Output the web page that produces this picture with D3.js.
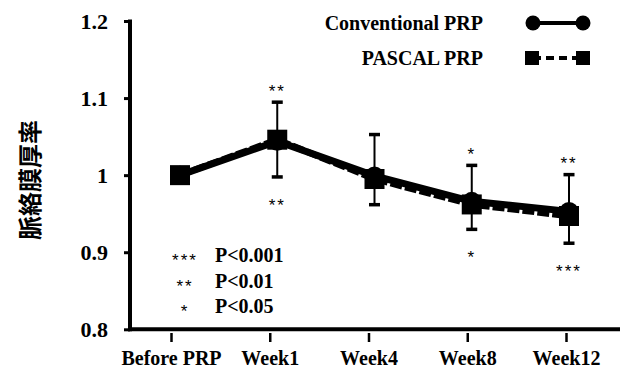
<!DOCTYPE html>
<html>
<head>
<meta charset="utf-8">
<script src="https://cdn.jsdelivr.net/npm/d3@7"></script>
<style>
  body { margin: 0; background: #fff; }
  svg { display: block; }
</style>
</head>
<body>
<div id="chart"></div>
<script>
// data
var categories = ["Before PRP", "Week1", "Week4", "Week8", "Week12"];
var conventionalMean = [1.0, 1.044, 0.999, 0.966, 0.953];
var conventionalSD = [0, 0.051, 0.054, 0.047, 0.048];
var pascalMean = [1.0, 1.046, 0.995, 0.962, 0.947];
var pascalSD = [0, 0.048, 0.033, 0.032, 0.035];
var sigUpper = ["", "**", "", "*", "**"];
var sigLower = ["", "**", "", "*", "***"];
var yTicks = [0.8, 0.9, 1.0, 1.1, 1.2];
var sigKey = [["***", "P<0.001"], ["**", "P<0.01"], ["*", "P<0.05"]];

var width = 621, height = 370;
var SERIF = "'Liberation Serif', 'Times New Roman', serif";
var SANS = "'Liberation Sans', Arial, sans-serif";

var svg = d3.select("#chart")
    .append("svg")
    .attr("width", width)
    .attr("height", height);

function serifText(sel, size) {
    return sel.style("font-family", SERIF)
        .style("font-weight", "bold")
        .style("font-size", size + "px")
        .attr("fill", "#000");
}

// scales
var xTick = d3.scalePoint().domain(categories).range([171, 566]);
var xPt = d3.scalePoint().domain(categories).range([180, 569]);
var y = d3.scaleLinear().domain([0.8, 1.2]).range([329.3, 21]);

// y axis
var yAxis = svg.append("g")
    .attr("transform", "translate(130,0)")
    .call(d3.axisLeft(y)
        .tickValues(yTicks)
        .tickSize(6)
        .tickPadding(16)
        .tickFormat(function (d) { return d === 1 ? "1" : d3.format(".1f")(d); }));
yAxis.attr("font-family", null).attr("font-size", null);
yAxis.select(".domain").remove();
yAxis.selectAll(".tick line").attr("stroke", "#000").attr("stroke-width", 3);
serifText(yAxis.selectAll(".tick text"), 22);

svg.append("line")
    .attr("x1", 130).attr("x2", 130)
    .attr("y1", y(1.2) - 1.5).attr("y2", y(0.8) + 2)
    .attr("stroke", "#000").attr("stroke-width", 4);

// x axis
var xAxis = svg.append("g")
    .attr("transform", "translate(0,333)")
    .call(d3.axisBottom(xTick).tickSize(9).tickPadding(9));
xAxis.attr("font-family", null).attr("font-size", null);
xAxis.select(".domain").remove();
xAxis.selectAll(".tick line").attr("stroke", "#000").attr("stroke-width", 2.5);
serifText(xAxis.selectAll(".tick text"), 20);

svg.append("line")
    .attr("x1", 128).attr("x2", 620)
    .attr("y1", y(0.8)).attr("y2", y(0.8))
    .attr("stroke", "#000").attr("stroke-width", 4);

// y title
svg.append("text")
    .attr("transform", "translate(28,180) rotate(-90)")
    .attr("text-anchor", "middle")
    .attr("dominant-baseline", "central")
    .style("font-family", "'Noto Sans CJK JP', 'Noto Sans CJK SC', sans-serif")
    .style("font-weight", "bold")
    .style("font-size", "24px")
    .text("脈絡膜厚率");

// error bars (conventional up, pascal down)
function errBar(mean, sd, dir) {
    var g = svg.append("g");
    categories.forEach(function (c, i) {
        if (!sd[i]) return;
        var v0 = mean[i], v1 = mean[i] + dir * sd[i];
        g.append("line")
            .attr("x1", xPt(c)).attr("x2", xPt(c))
            .attr("y1", y(v0)).attr("y2", y(v1))
            .attr("stroke", "#000").attr("stroke-width", 2);
        g.append("rect")
            .attr("x", xPt(c) - 5.5).attr("y", y(v1) - 1.5)
            .attr("width", 11).attr("height", 3.5)
            .attr("fill", "#000");
    });
}
errBar(conventionalMean, conventionalSD, 1);
errBar(pascalMean, pascalSD, -1);

// lines
var lineGen = function (vals) {
    return d3.line()
        .x(function (d, i) { return xPt(categories[i]); })
        .y(function (d) { return y(d); })(vals);
};
svg.append("path")
    .attr("d", lineGen(pascalMean))
    .attr("fill", "none").attr("stroke", "#000").attr("stroke-width", 6.5)
    .attr("stroke-dasharray", "12,3");
svg.append("path")
    .attr("d", lineGen(conventionalMean))
    .attr("fill", "none").attr("stroke", "#000").attr("stroke-width", 7);

// markers
svg.selectAll("circle.conv")
    .data(conventionalMean)
    .enter().append("circle")
    .attr("class", "conv")
    .attr("cx", function (d, i) { return xPt(categories[i]); })
    .attr("cy", function (d) { return y(d); })
    .attr("r", 9.5)
    .attr("fill", "#000");
svg.selectAll("rect.pas")
    .data(pascalMean)
    .enter().append("rect")
    .attr("class", "pas")
    .attr("x", function (d, i) { return xPt(categories[i]) - 10; })
    .attr("y", function (d) { return y(d) - 10; })
    .attr("width", 20).attr("height", 20)
    .attr("fill", "#000");

// significance stars
function starText(sel) {
    return sel.attr("text-anchor", "middle")
        .style("font-family", SANS)
        .style("font-size", "17px")
        .style("letter-spacing", "2px");
}
function stars(labels, mean, sd, dir, off) {
    starText(svg.selectAll(null)
        .data(labels)
        .enter().append("text")
        .attr("x", function (d, i) { return xPt(categories[i]); })
        .attr("y", function (d, i) { return y(mean[i] + dir * sd[i]) - dir * off + 9; }))
        .text(function (d) { return d; });
}
stars(sigUpper, conventionalMean, conventionalSD, 1, 14);
stars(sigLower, pascalMean, pascalSD, -1, 25);

// p-value key
var key = svg.append("g");
sigKey.forEach(function (k, i) {
    starText(key.append("text")
        .attr("x", 185).attr("y", 266 + i * 25.5))
        .text(k[0]);
    serifText(key.append("text")
        .attr("x", 215).attr("y", 262 + i * 25.5), 20)
        .text(k[1]);
});

// legend
var leg = svg.append("g");
serifText(leg.append("text")
    .attr("x", 483).attr("y", 30).attr("text-anchor", "end"), 20)
    .text("Conventional PRP");
leg.append("line")
    .attr("x1", 533).attr("x2", 583).attr("y1", 23).attr("y2", 23)
    .attr("stroke", "#000").attr("stroke-width", 4);
leg.selectAll("circle").data([533, 583]).enter().append("circle")
    .attr("cx", function (d) { return d; }).attr("cy", 23).attr("r", 7.5);

serifText(leg.append("text")
    .attr("x", 483).attr("y", 65).attr("text-anchor", "end"), 20)
    .text("PASCAL PRP");
leg.append("line")
    .attr("x1", 533).attr("x2", 583).attr("y1", 58).attr("y2", 58)
    .attr("stroke", "#000").attr("stroke-width", 4)
    .attr("stroke-dasharray", "8,5");
leg.selectAll("rect").data([532, 583]).enter().append("rect")
    .attr("x", function (d) { return d - 7; }).attr("y", 51)
    .attr("width", 14).attr("height", 14);
</script>
</body>
</html>
